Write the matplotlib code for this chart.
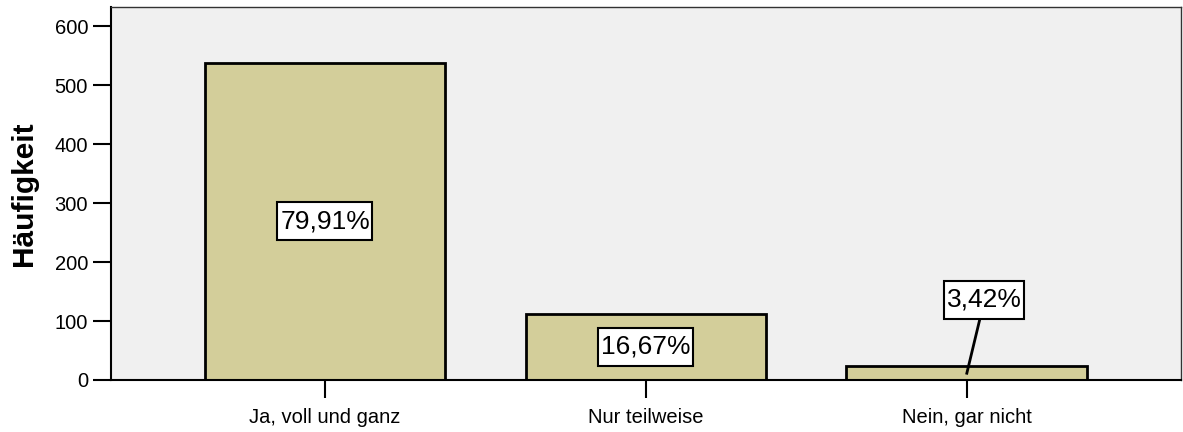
import matplotlib.pyplot as plt
import matplotlib.transforms as mtransforms
from matplotlib.patches import Rectangle
import numpy as np

categories = ["Ja, voll und ganz", "Nur teilweise", "Nein, gar nicht"]
counts = [538, 112, 23]
pct_labels = ["79,91%", "16,67%", "3,42%"]

plt.rcParams['font.family'] = ['Liberation Sans', 'DejaVu Sans']

fig = plt.figure(figsize=(11.83, 4.32), dpi=100)
ax = fig.add_axes([0.0938, 0.1204, 0.9044, 0.8634])
ax.set_facecolor('#f0f0f0')

x = np.arange(len(categories))
ax.bar(x, counts, width=0.75, color='#d3ce9a', edgecolor='black', linewidth=2, zorder=2)

ax.set_xlim(-0.667, 2.667)
ax.set_ylim(0, 633)
ax.set_yticks([0, 100, 200, 300, 400, 500, 600])
ax.set_xticks(x)
ax.set_xticklabels(categories)
ax.tick_params(axis='both', length=13, width=1.5, labelsize=14.5)
ax.tick_params(axis='x', pad=7)
ax.set_ylabel("Häufigkeit", fontsize=21.5, fontweight='bold', labelpad=12)

for s in ['left', 'bottom']:
    ax.spines[s].set_linewidth(1.5)
    ax.spines[s].set_color('black')
for s in ['top', 'right']:
    ax.spines[s].set_linewidth(1.0)
    ax.spines[s].set_color('#333333')

# label positions: inside the two big bars, above the small one
label_pos = [(x[0], counts[0] / 2), (x[1], counts[1] / 2), (x[2] + 0.055, 136)]
texts = []
for (lx, ly), lab in zip(label_pos, pct_labels):
    texts.append(ax.text(lx, ly, lab, ha='center', va='center', fontsize=19, zorder=6))

# leader line for the small bar
ax.plot([x[2], label_pos[2][0]], [counts[2] / 2, label_pos[2][1]], color='black', lw=2, zorder=3)

# white boxes with more vertical padding than horizontal
fig.canvas.draw()
r = fig.canvas.get_renderer()
for t in texts:
    bb = t.get_window_extent(renderer=r)
    rect = Rectangle((bb.x0 - 3, bb.y0 - 7), bb.width + 5, bb.height + 14,
                     transform=mtransforms.IdentityTransform(),
                     fc='white', ec='black', lw=1.5, zorder=5)
    ax.add_patch(rect)

plt.savefig('out.png', dpi=100)
